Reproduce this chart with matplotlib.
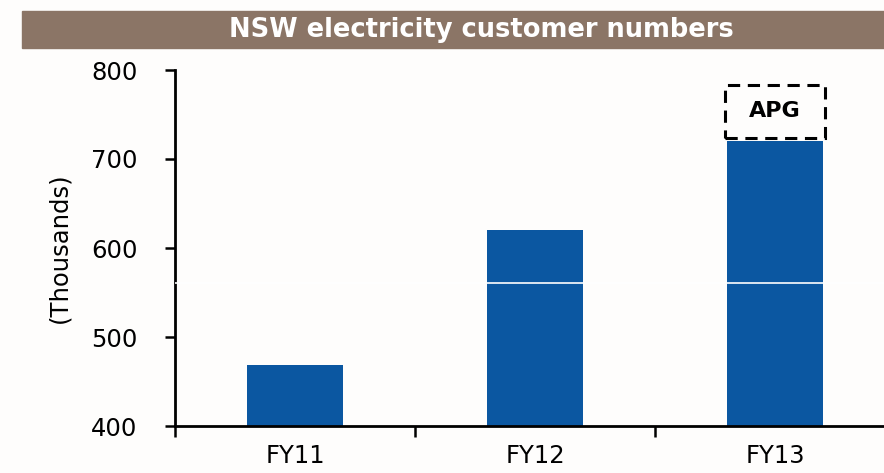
import numpy as np
import matplotlib.pyplot as plt
from matplotlib.patches import Rectangle

# data
years = ['FY11', 'FY12', 'FY13']
customers = [469, 620, 720]
apg_low = 724
apg_high = 783
split_line = 561
yticks = [400, 500, 600, 700, 800]

W, H = 884, 473
fig = plt.figure(figsize=(W / 100, H / 100), dpi=100)
fig.patch.set_facecolor('#fefdfc')

# title banner
fig.patches.append(Rectangle((22 / W, 1 - 48 / H), 1 - 22 / W, 37 / H,
                             transform=fig.transFigure, color='#8b7566', zorder=0))
fig.text(481 / W, 1 - 30 / H, 'NSW electricity customer numbers', color='white',
         fontsize=18.5, fontweight='bold', ha='center', va='center')

ax = fig.add_axes([175 / W, 1 - 426 / H, 720 / W, 356 / H])
ax.set_facecolor('none')
x = np.arange(len(years))
ax.bar(x, customers, width=0.4, bottom=0, color='#0b57a1', zorder=2)
ax.axhline(split_line, color='white', lw=1.2, zorder=3)

# dashed APG box
ax.add_patch(Rectangle((2 - 0.21, apg_low), 0.42, apg_high - apg_low, fill=False,
                       ls=(0, (4, 2.5)), lw=2.2, ec='black', zorder=4))
ax.text(2, (apg_low + apg_high) / 2, 'APG', ha='center', va='center',
        fontsize=16, fontweight='bold')

ax.set_xlim(-0.5, 2.5)
ax.set_ylim(400, 800)
ax.set_yticks(yticks)
ax.set_xticks([-0.5, 0.5, 1.5, 2.5])
ax.set_xticklabels([])
ax.set_xticks(x, minor=True)
ax.set_xticklabels(years, minor=True)
ax.tick_params(axis='x', which='minor', length=0, labelsize=17.5, pad=13)
ax.tick_params(axis='x', which='major', length=8, width=1.8, direction='out')
ax.tick_params(axis='y', length=7, width=1.8, labelsize=17.5, pad=20)
for s in ['top', 'right']:
    ax.spines[s].set_visible(False)
for s in ['left', 'bottom']:
    ax.spines[s].set_linewidth(2)
ax.set_ylabel('(Thousands)', fontsize=17.5, labelpad=14)

fig.savefig('out.png', dpi=100, facecolor=fig.get_facecolor())
